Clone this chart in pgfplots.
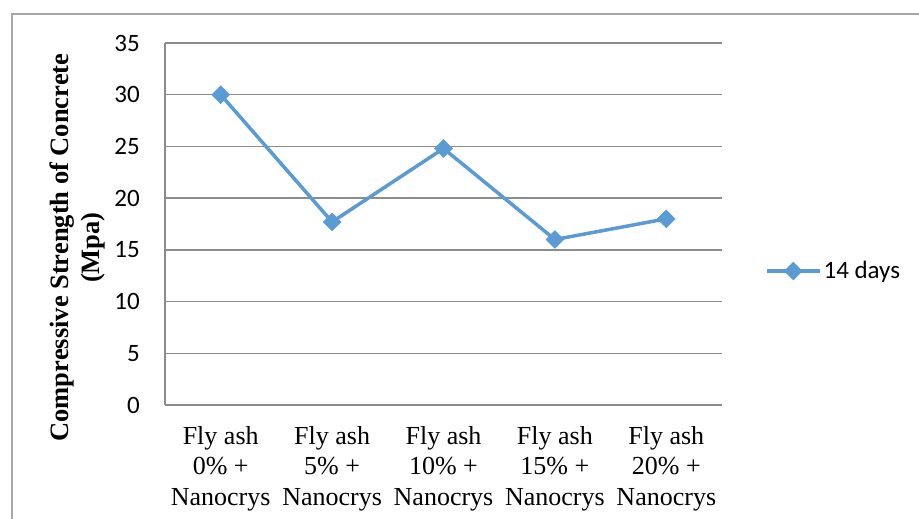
\documentclass[border=0pt]{standalone}
\usepackage{fontspec}
\setmainfont{Liberation Serif}
\newfontfamily\carlito{Carlito}
\usepackage{pgfplots}
\pgfplotsset{compat=1.18}
\definecolor{linec}{HTML}{5B9BD5}
\definecolor{gridc}{HTML}{8C8C8C}
\definecolor{framec}{HTML}{A6A6A6}
\begin{document}
\begin{tikzpicture}[x=1pt,y=1pt]
\useasboundingbox[fill=white] (0,0) rectangle (919,519);
\draw[framec, line width=1.2pt] (12,0) -- (12,505) -- (919,505);
\begin{axis}[
  at={(165pt,114pt)}, anchor=south west,
  width=557pt, height=362pt, scale only axis,
  xmin=-0.5, xmax=4.5, ymin=0, ymax=35,
  ytick={0,5,...,35},
  xtick=data,
  xticklabels={{Fly ash\\0\% +\\Nanocrys},{Fly ash\\5\% +\\Nanocrys},{Fly ash\\10\% +\\Nanocrys},{Fly ash\\15\% +\\Nanocrys},{Fly ash\\20\% +\\Nanocrys}},
  axis x line*=bottom, axis y line*=left,
  axis line style={gridc, line width=1.5pt},
  ymajorgrids, grid style={gridc, line width=1.5pt},
  major tick length=0pt,
  /pgf/number format/assume math mode=true,
  yticklabel style={font=\carlito\fontsize{25}{25}\selectfont, inner sep=0pt, xshift=-25pt},
  xticklabel style={font=\fontsize{26}{30.5}\selectfont, align=center, inner sep=0pt, yshift=-21pt},
  ylabel={Compressive Strength of Concrete\\(Mpa)},
  ylabel style={font=\bfseries\fontsize{26.5}{31}\selectfont, align=center, at={(axis description cs:-0.157,0.435)}, anchor=center},
  legend style={at={(axis description cs:1.077,0.37)}, anchor=west, draw=none, fill=none,
    font=\carlito\fontsize{25}{25}\selectfont, inner sep=0pt},
  legend cell align=left,
  legend image code/.code={\draw[mark repeat=2,mark phase=2,#1] plot coordinates {(0pt,0pt) (26.5pt,0pt) (53pt,0pt)};},
]
\addplot[linec, line width=3.5pt, mark=square*, mark size=6.3pt, mark options={rotate=45, solid, fill=linec, draw=linec, line width=0.5pt}]
  coordinates {(0,30) (1,17.7) (2,24.8) (3,16.0) (4,18.0)};
\addlegendentry{14 days}
\end{axis}
\end{tikzpicture}
\end{document}
